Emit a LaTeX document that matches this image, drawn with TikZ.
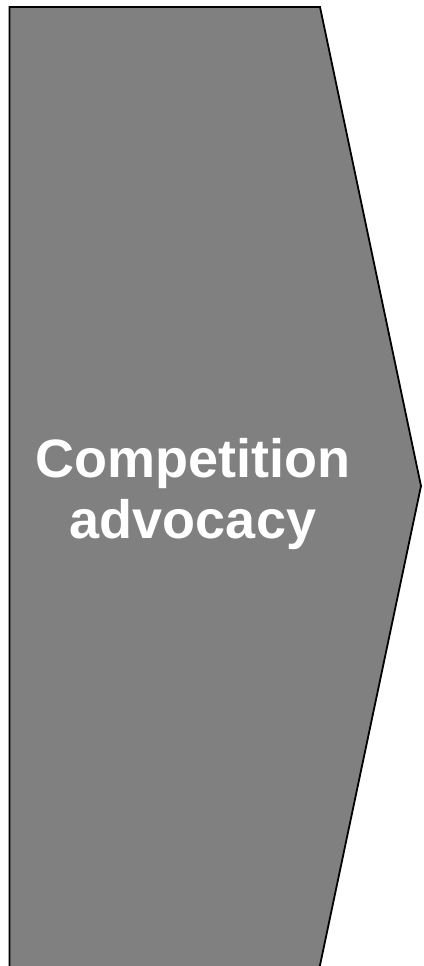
\documentclass[tikz,border=0pt]{standalone}
\usepackage{fontspec}
\setmainfont{Liberation Sans}
\begin{document}
\begin{tikzpicture}[x=1pt,y=-1pt,
  arrowfill/.style={fill=gray50, draw=none},
  arrowline/.style={draw=black, line width=1.8pt, line join=miter},
  lbl/.style={text=white, font=\fontsize{54}{60}\selectfont\bfseries, anchor=base, inner sep=0pt}]
\definecolor{gray50}{RGB}{128,128,128}
\useasboundingbox (0,0) rectangle (423,966);
\coordinate (tl) at (9.5,7);
\coordinate (tr) at (320,7);
\coordinate (tip) at (421,486);
\coordinate (br) at (319,970);
\coordinate (bl) at (9.5,970);
\fill[arrowfill] (tl) -- (tr) -- (tip) -- (br) -- (bl) -- cycle;
\draw[arrowline] (bl) -- (tl) -- (tr) -- (tip) -- (br);
\node[lbl] (l1) at (193,477) {Competition};
\node[lbl] (l2) at (193,538) {advocacy};
\end{tikzpicture}
\end{document}
